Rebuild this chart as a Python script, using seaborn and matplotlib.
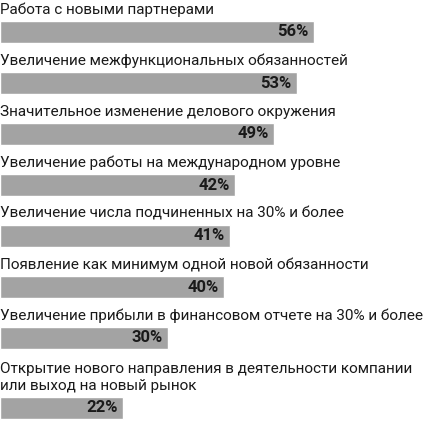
import matplotlib
matplotlib.use("Agg")
import matplotlib.pyplot as plt
import pandas as pd
import seaborn as sns

# survey data
labels = [
    "Работа с новыми партнерами",
    "Увеличение межфункциональных обязанностей",
    "Значительное изменение делового окружения",
    "Увеличение работы на международном уровне",
    "Увеличение числа подчиненных на 30% и более",
    "Появление как минимум одной новой обязанности",
    "Увеличение прибыли в финансовом отчете на 30% и более",
    "Открытие нового направления в деятельности компании\nили выход на новый рынок",
]
values = [56, 53, 49, 42, 41, 40, 30, 22]

sns.set_theme(style="white")
plt.rcParams["font.family"] = ["Roboto", "DejaVu Sans"]

# vertical layout in pixels: label lines then a bar
line_h, pad, bar_h = 19, 10, 22
ypos = []
top = -8
for lab in labels:
    n = lab.count("\n") + 1
    top += pad + line_h * n
    ypos.append(top + bar_h / 2)
    top += bar_h

df = pd.DataFrame({"label": labels, "value": values, "y": ypos})

fig = plt.figure(figsize=(4.27, 4.23), dpi=100)
ax = fig.add_axes([0, 0, 1, 1])
min_gap = min(b - a for a, b in zip(ypos, ypos[1:]))
sns.barplot(data=df, x="value", y="y", orient="h", native_scale=True,
            color="#a3a3a3", saturation=1, width=bar_h / min_gap, ax=ax)

ax.set_xlim(0, 427 / 5.6)
ax.set_ylim(423, 0)
ax.axis("off")

for lab, v, y in zip(labels, values, ypos):
    ax.text(0, y - bar_h / 2 - 4, lab, ha="left", va="bottom",
            fontsize=11, color="#1a1a1a", linespacing=1.25)
    ax.annotate(f"{v}%", xy=(v, y), xytext=(-5, 0), textcoords="offset pixels",
                ha="right", va="center", fontsize=12, fontweight="bold",
                color="#1a1a1a")

fig.savefig("out.png", dpi=100)
